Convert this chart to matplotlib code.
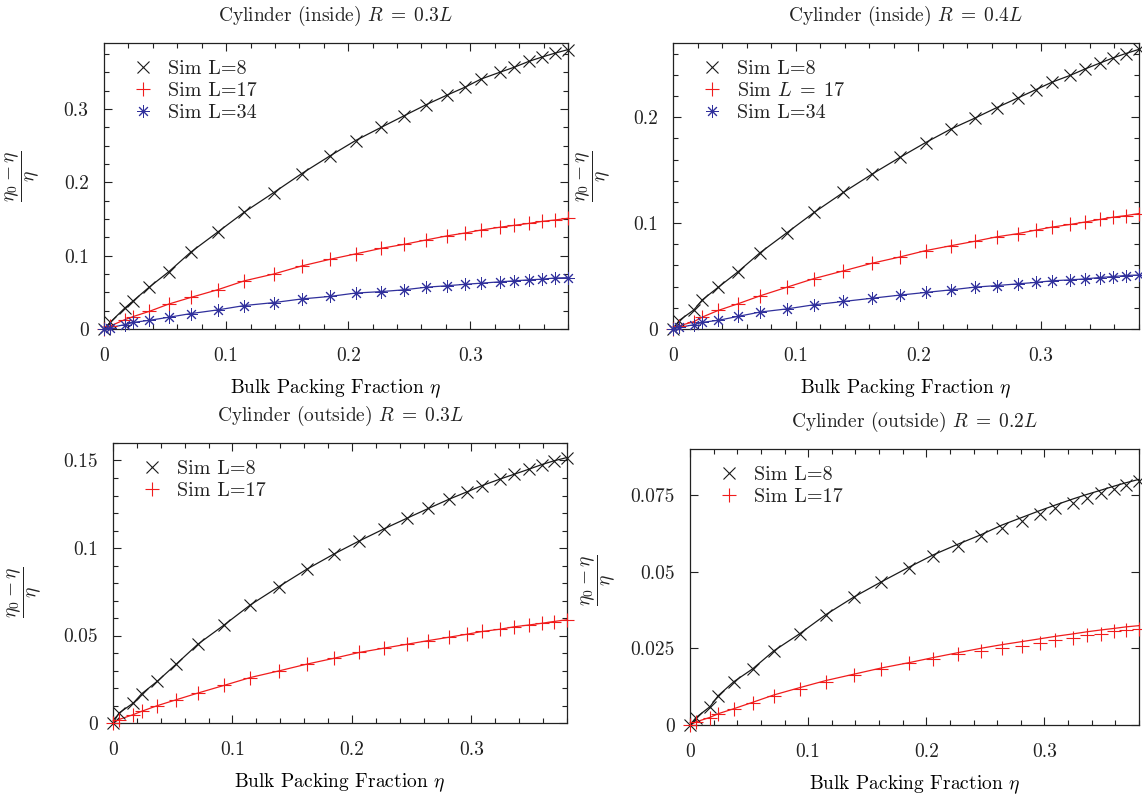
#!/usr/bin/env python
# -*- coding: utf-8 -*-

import matplotlib
matplotlib.use('Agg')
from matplotlib import pyplot as plt
from matplotlib.ticker import MultipleLocator, NullLocator

# bulk packing fraction (common x grid)
eta = [0.0, 0.005, 0.017, 0.024, 0.037, 0.053, 0.071, 0.093, 0.115, 0.139,
       0.162, 0.185, 0.206, 0.227, 0.246, 0.264, 0.281, 0.296, 0.309, 0.324,
       0.336, 0.348, 0.359, 0.369, 0.380]

# Cylinder (inside) R = 0.3L
in03_l8 = [0.0, 0.009, 0.0285, 0.0385, 0.057, 0.078, 0.1047, 0.132, 0.1595,
           0.186, 0.212, 0.236, 0.257, 0.275, 0.291, 0.306, 0.319, 0.330,
           0.341, 0.350, 0.357, 0.365, 0.371, 0.376, 0.381]
in03_l17 = [0.0, 0.004, 0.0127, 0.017, 0.024, 0.034, 0.043, 0.0535, 0.0657,
            0.075, 0.086, 0.095, 0.1024, 0.110, 0.1155, 0.1215, 0.127, 0.131,
            0.135, 0.1387, 0.1414, 0.144, 0.1468, 0.1486, 0.151]
in03_l34 = [0.0, 0.002, 0.0059, 0.009, 0.0118, 0.016, 0.021, 0.026, 0.032,
            0.036, 0.041, 0.0444, 0.049, 0.051, 0.0535, 0.057, 0.059, 0.061,
            0.0625, 0.0643, 0.0657, 0.067, 0.068, 0.0695, 0.070]

# Cylinder (inside) R = 0.4L
in04_l8 = [0.0, 0.008, 0.018, 0.0276, 0.0395, 0.054, 0.072, 0.091, 0.110,
           0.129, 0.146, 0.162, 0.176, 0.189, 0.199, 0.209, 0.218, 0.226,
           0.233, 0.2395, 0.2455, 0.251, 0.256, 0.260, 0.264]
in04_l17 = [0.0, 0.003, 0.0069, 0.0113, 0.0176, 0.0238, 0.0313, 0.0395,
            0.0476, 0.0549, 0.062, 0.068, 0.074, 0.0787, 0.0828, 0.087,
            0.090, 0.0934, 0.0962, 0.0987, 0.101, 0.1034, 0.1056, 0.107, 0.109]
in04_l34 = [0.0, 0.0015, 0.004, 0.0063, 0.0082, 0.0119, 0.016, 0.019,
            0.0229, 0.026, 0.029, 0.032, 0.0345, 0.037, 0.0395, 0.041,
            0.0426, 0.044, 0.0455, 0.0464, 0.0473, 0.0486, 0.0495, 0.0505,
            0.051]

# Cylinder (outside) R = 0.3L
out03_l8 = [0.0, 0.0057, 0.0114, 0.0167, 0.0238, 0.0337, 0.045, 0.056,
            0.0675, 0.078, 0.0878, 0.0966, 0.104, 0.111, 0.117, 0.1226,
            0.1278, 0.132, 0.1357, 0.1394, 0.1422, 0.145, 0.1477, 0.1498,
            0.1517]
out03_l17 = [0.0, 0.002, 0.0048, 0.0067, 0.0099, 0.0133, 0.0171, 0.0215,
             0.026, 0.0298, 0.0336, 0.037, 0.0403, 0.0428, 0.045, 0.0471,
             0.049, 0.0507, 0.0523, 0.0536, 0.055, 0.056, 0.057, 0.058, 0.059]

# Cylinder (outside) R = 0.2L  (sim points and theory curves differ a bit)
out02_l8 = [0.0, 0.0024, 0.006, 0.0096, 0.0141, 0.0183, 0.0242, 0.0298,
            0.036, 0.0418, 0.0467, 0.0512, 0.0552, 0.0585, 0.0615, 0.0643,
            0.0666, 0.0687, 0.0707, 0.0724, 0.074, 0.0755, 0.077, 0.0783,
            0.0796]
out02_l17 = [0.0, 0.001, 0.0022, 0.0036, 0.0051, 0.0071, 0.0096, 0.0118,
             0.0141, 0.0162, 0.0181, 0.0201, 0.0216, 0.023, 0.0242, 0.025,
             0.0258, 0.0268, 0.0277, 0.0284, 0.0292, 0.0298, 0.0305, 0.0309,
             0.0314]
out02_l8_th = [0.0, 0.0024, 0.006, 0.0096, 0.0141, 0.0183, 0.0242, 0.0298,
               0.036, 0.0418, 0.0467, 0.0514, 0.0555, 0.059, 0.062, 0.0652,
               0.0677, 0.0699, 0.0717, 0.0737, 0.0752, 0.0766, 0.0779, 0.079,
               0.0801]
out02_l17_th = [0.0, 0.001, 0.0025, 0.0037, 0.0053, 0.0074, 0.0098, 0.0122,
                0.0145, 0.0166, 0.0186, 0.0203, 0.022, 0.0236, 0.025, 0.0262,
                0.0272, 0.0281, 0.0289, 0.0297, 0.0304, 0.031, 0.0315, 0.032,
                0.0324]

BLACK = '#1a1a1a'
RED = '#f01c1c'
BLUE = '#30309c'
STAR = (8, 2, 0)  # gnuplot style asterisk
MSIZE = {'x': 8, '+': 9.5, STAR: 9}

plt.rcParams['font.family'] = 'serif'
plt.rcParams['font.serif'] = ['cmr10', 'DejaVu Serif']
plt.rcParams['mathtext.fontset'] = 'cm'
plt.rcParams['axes.unicode_minus'] = False
plt.rcParams['axes.formatter.use_mathtext'] = True
plt.rcParams['text.color'] = '#222222'
plt.rcParams['xtick.color'] = '#222222'
plt.rcParams['ytick.color'] = '#222222'

W, H = 1142.0, 799.0
FS = 14
LFS = 14.5
YLAB = r'$\dfrac{\eta_0 - \eta}{\eta}$'


def _axes(fig, left, top, right, bottom):
    """ピクセル座標で軸を作る"""
    return fig.add_axes([left / W, (H - bottom) / H,
                         (right - left) / W, (bottom - top) / H])


def _panel(fig, ax, title, ymax, ymaj, ymin, series, ylab_xy, theory=None):
    for i, (y, c, m, lab) in enumerate(series):
        th = theory[i] if theory else y
        ax.plot(eta, th, color=c, lw=0.9, zorder=2)
        ax.plot(eta, y, ls='none', marker=m, ms=MSIZE[m],
                mew=0.7 if m == STAR else 0.8,
                color=c, label=lab, zorder=3, clip_on=False)
    ax.set_xlim(0, 0.38)
    ax.set_ylim(0, ymax)
    ax.xaxis.set_major_locator(MultipleLocator(0.1))
    ax.xaxis.set_minor_locator(MultipleLocator(0.02))
    ax.yaxis.set_major_locator(MultipleLocator(ymaj))
    if ymin:
        ax.yaxis.set_minor_locator(MultipleLocator(ymin))
    else:
        ax.yaxis.set_minor_locator(NullLocator())
    ax.xaxis.set_major_formatter(plt.FuncFormatter(lambda v, p: '%g' % v))
    ax.yaxis.set_major_formatter(plt.FuncFormatter(lambda v, p: '%g' % v))
    ax.tick_params(which='both', direction='in', top=True, right=True,
                   width=0.8, labelsize=FS)
    ax.tick_params(which='major', length=6)
    ax.tick_params(which='minor', length=3.5)
    ax.tick_params(axis='x', pad=13)
    ax.tick_params(axis='y', pad=11)
    for s in ax.spines.values():
        s.set_linewidth(0.9)
        s.set_color('#222222')
    ax.set_title(title, fontsize=FS, pad=16)
    ax.set_xlabel(r'Bulk Packing Fraction $\eta$', fontsize=FS, labelpad=9)
    # y軸ラベルは図のピクセル位置に置く
    fig.text(ylab_xy[0] / W, 1 - ylab_xy[1] / H, YLAB, fontsize=14,
             rotation=90, ha='center', va='center')
    # 凡例: 左上からピクセルで位置合わせ
    bb = ax.get_position()
    wpx, hpx = bb.width * W, bb.height * H
    ax.legend(loc='upper left', frameon=False, handlelength=1.0,
              handletextpad=0.75, borderaxespad=0.0, labelspacing=0.2,
              fontsize=LFS, bbox_to_anchor=(21 / wpx, 1 - 9 / hpx))


def main():
    fig = plt.figure(figsize=(W / 100, H / 100), dpi=100)

    ax1 = _axes(fig, 104, 43, 568, 329)
    _panel(fig, ax1, r'Cylinder (inside) $R\;=\;0.3L$', 0.39, 0.1, 0.025, [
        (in03_l8, BLACK, 'x', 'Sim L=8'),
        (in03_l17, RED, '+', 'Sim L=17'),
        (in03_l34, BLUE, STAR, 'Sim L=34'),
    ], (22, 176))

    ax2 = _axes(fig, 673, 43, 1139, 329)
    _panel(fig, ax2, r'Cylinder (inside) $R\;=\;0.4L$', 0.27, 0.1, 0.02, [
        (in04_l8, BLACK, 'x', 'Sim L=8'),
        (in04_l17, RED, '+', r'Sim $L\;=\;17$'),
        (in04_l34, BLUE, STAR, 'Sim L=34'),
    ], (593, 176))

    ax3 = _axes(fig, 113, 443, 567, 723)
    _panel(fig, ax3, r'Cylinder (outside) $R\;=\;0.3L$', 0.16, 0.05, 0.01, [
        (out03_l8, BLACK, 'x', 'Sim L=8'),
        (out03_l17, RED, '+', 'Sim L=17'),
    ], (24, 592))

    ax4 = _axes(fig, 690, 449, 1139, 725)
    _panel(fig, ax4, r'Cylinder (outside) $R\;=\;0.2L$', 0.09, 0.025, None, [
        (out02_l8, BLACK, 'x', 'Sim L=8'),
        (out02_l17, RED, '+', 'Sim L=17'),
    ], (598, 580), theory=[out02_l8_th, out02_l17_th])

    fig.savefig('out.png', dpi=100)


if __name__ == '__main__':
    main()
